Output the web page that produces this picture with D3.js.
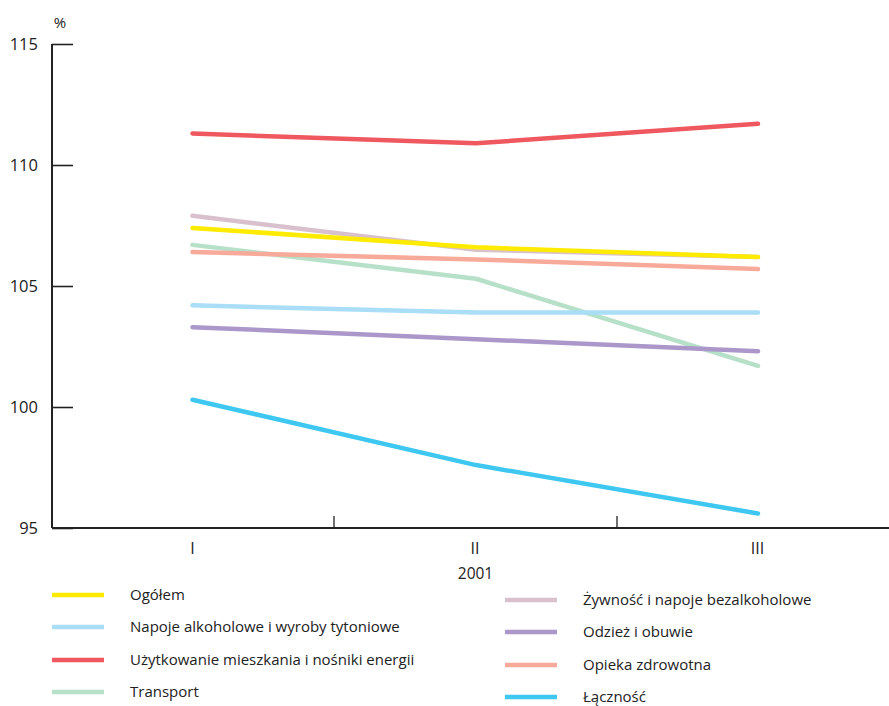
<!DOCTYPE html>
<html><head><meta charset="utf-8">
<script src="https://cdn.jsdelivr.net/npm/d3@7"></script>
<style>body{margin:0;background:#fff}svg{display:block;font-family:"Open Sans",sans-serif}</style>
</head><body><svg id="c" width="889" height="706"></svg>
<script>
const categories = ["I","II","III"];
const yTicks = [95,100,105,110,115];
const yearLabel = "2001";
const unitLabel = "%";
const seriesNames = ["Ogółem","Napoje alkoholowe i wyroby tytoniowe","Użytkowanie mieszkania i nośniki energii","Transport","Żywność i napoje bezalkoholowe","Odzież i obuwie","Opieka zdrowotna","Łączność"];
const seriesColors = ["#ffeb00","#a9def6","#ef585e","#b7e0c9","#d8c0cc","#ab97c9","#f8aa9a","#3ec8f1"];
const ogolem = [107.4,106.6,106.2];
const napoje = [104.2,103.9,103.9];
const uzytkowanie = [111.3,110.9,111.7];
const transport = [106.7,105.3,101.7];
const zywnosc = [107.9,106.5,106.2];
const odziez = [103.3,102.8,102.3];
const opieka = [106.4,106.1,105.7];
const lacznosc = [100.3,97.6,95.6];
const seriesValues = [ogolem,napoje,uzytkowanie,transport,zywnosc,odziez,opieka,lacznosc];
const drawOrder = [3,4,1,5,6,0,2,7];

const svg = d3.select("#c");
const x = d3.scaleBand().domain(categories).range([51,900]);
const y = d3.scaleLinear().domain([95,115]).range([528,44]);

// y axis
const ya = svg.append("g").attr("transform","translate(52,0)")
  .call(d3.axisRight(y).tickValues(yTicks).tickSize(21).tickFormat(""));
ya.select(".domain").remove();
ya.selectAll("line").attr("stroke","#222").attr("stroke-width",1.6);
svg.append("line").attr("x1",52).attr("x2",52).attr("y1",y(115)).attr("y2",y(95)).attr("stroke","#222").attr("stroke-width",2);
svg.selectAll(".ylab").data(yTicks).enter().append("text")
  .attr("x",38).attr("y",d=>y(d)+6).attr("text-anchor","end")
  .attr("font-size",16.5).attr("fill","#222").text(d=>d);
svg.append("text").attr("x",60).attr("y",28).attr("text-anchor","middle").attr("font-size",15).attr("fill","#222").text(unitLabel);

// x axis
svg.append("line").attr("x1",52).attr("x2",889).attr("y1",528).attr("y2",528).attr("stroke","#222").attr("stroke-width",2);
svg.selectAll(".xt").data(categories.slice(1)).enter().append("line")
  .attr("x1",d=>x(d)).attr("x2",d=>x(d)).attr("y1",516).attr("y2",528).attr("stroke","#222").attr("stroke-width",1.3);
svg.selectAll(".xl").data(categories).enter().append("text")
  .attr("x",d=>x(d)+x.bandwidth()/2 - 0.5*(categories.indexOf(d))).attr("y",554).attr("text-anchor","middle")
  .attr("font-size",16).attr("fill","#222").text(d=>d);
svg.append("text").attr("x",x("II")+x.bandwidth()/2).attr("y",579).attr("text-anchor","middle").attr("font-size",15.5).attr("fill","#222").text(yearLabel);

const line = d3.line().x((d,i)=>x(categories[i])+x.bandwidth()/2 + (i===0?0:(i===1?0.5:-0.5))).y(d=>y(d));
drawOrder.forEach(k=>{
  svg.append("path").attr("d",line(seriesValues[k])).attr("fill","none")
    .attr("stroke",seriesColors[k]).attr("stroke-width",4.5).attr("stroke-linecap","round").attr("stroke-linejoin","round");
});

// legend
const leftX = 52, rightX = 505;
const leftY = [595,627,660,692], rightY = [600,632,665,697];
seriesNames.forEach((n,i)=>{
  const col = i<4 ? 0 : 1;
  const lx = col ? rightX : leftX;
  const ly = col ? rightY[i-4] : leftY[i];
  svg.append("line").attr("x1",lx).attr("x2",lx+52).attr("y1",ly).attr("y2",ly)
    .attr("stroke",seriesColors[i]).attr("stroke-width",4.5);
  svg.append("text").attr("x",lx+78).attr("y",ly+5).attr("font-size",15).attr("fill","#222").text(n);
});
</script></body></html>
